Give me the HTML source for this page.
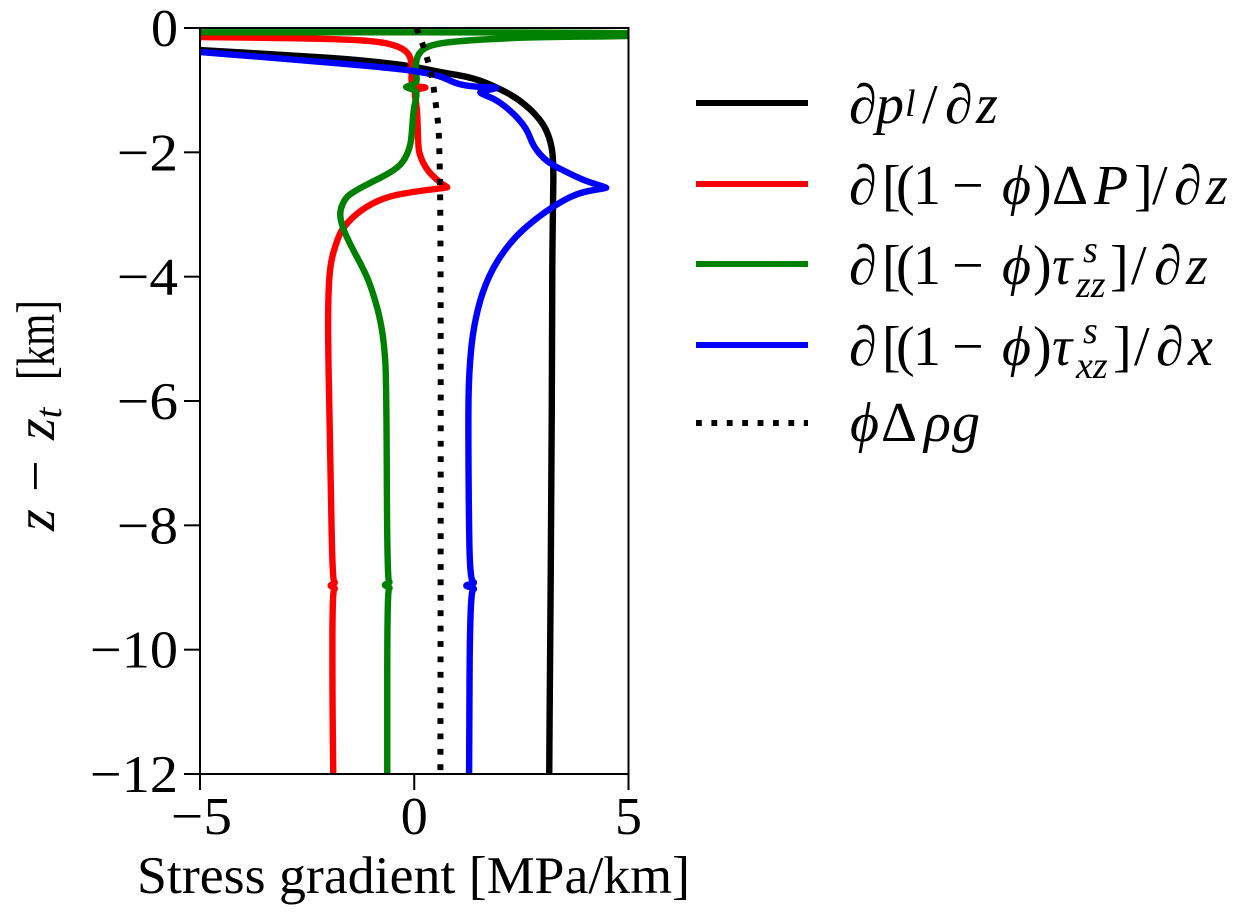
<!DOCTYPE html>
<html lang="en">
<head>
<meta charset="utf-8">
<title>Stress gradient profile</title>
<style>
  html, body { margin: 0; padding: 0; background: #fff; }
  svg { display: block; }
  text { font-family: "Liberation Serif", "DejaVu Serif", serif; fill: #000; }
  .m { font-style: italic; }
  .s { font-size: 38px; }
</style>
</head>
<body>
<svg id="chart" xmlns="http://www.w3.org/2000/svg" width="1242" height="918" viewBox="0 0 1242 918">
  <defs>
    <clipPath id="plot-clip"><rect x="200" y="28" width="428.5" height="746"/></clipPath>
  </defs>
  <rect x="200" y="28" width="428.5" height="746" fill="#fff"/>
  <g id="series-layer" clip-path="url(#plot-clip)"></g>
  <g id="axes-layer"></g>

  <text x="137" y="893" font-size="53" textLength="553" lengthAdjust="spacingAndGlyphs">Stress gradient [MPa/km]</text>
  <g transform="translate(54,531) rotate(-90)">
    <text x="0" y="0" font-size="56"><tspan class="m">z</tspan><tspan x="39">−</tspan><tspan class="m" x="91">z</tspan><tspan class="m s" dy="7">t</tspan></text>
    <text x="151" y="0" font-size="54" textLength="80" lengthAdjust="spacingAndGlyphs">[km]</text>
  </g>

  <g>
    <line x1="696" x2="808" y1="103" y2="103" stroke="#000" stroke-width="6"/>
    <text y="123" font-size="56"><tspan class="m" x="849">∂</tspan><tspan class="m" x="876">p</tspan><tspan class="m s" x="905" y="116">l</tspan><tspan x="922" y="123">/</tspan><tspan class="m" x="945">∂</tspan><tspan class="m" x="976">z</tspan></text>

    <line x1="696" x2="808" y1="184" y2="184" stroke="#f00" stroke-width="6"/>
    <text y="204" font-size="56"><tspan class="m" x="849">∂</tspan><tspan x="882">[</tspan><tspan x="896">(</tspan><tspan x="913">1</tspan><tspan x="952">−</tspan><tspan class="m" x="1002">ϕ</tspan><tspan x="1033">)</tspan><tspan x="1052">Δ</tspan><tspan class="m" x="1094">P</tspan><tspan x="1134">]</tspan><tspan x="1152">/</tspan><tspan class="m" x="1174">∂</tspan><tspan class="m" x="1206">z</tspan></text>

    <line x1="696" x2="808" y1="264" y2="264" stroke="#008000" stroke-width="6"/>
    <text y="284" font-size="56"><tspan class="m" x="849">∂</tspan><tspan x="882">[</tspan><tspan x="896">(</tspan><tspan x="913">1</tspan><tspan x="952">−</tspan><tspan class="m" x="1002">ϕ</tspan><tspan x="1033">)</tspan><tspan class="m" x="1052">τ</tspan><tspan class="m s" x="1083" y="262">s</tspan><tspan class="m s" x="1076" y="297">zz</tspan><tspan x="1110" y="284">]</tspan><tspan x="1131">/</tspan><tspan class="m" x="1154">∂</tspan><tspan class="m" x="1186">z</tspan></text>

    <line x1="696" x2="808" y1="345" y2="345" stroke="#00f" stroke-width="6"/>
    <text y="365" font-size="56"><tspan class="m" x="849">∂</tspan><tspan x="882">[</tspan><tspan x="896">(</tspan><tspan x="913">1</tspan><tspan x="952">−</tspan><tspan class="m" x="1002">ϕ</tspan><tspan x="1033">)</tspan><tspan class="m" x="1052">τ</tspan><tspan class="m s" x="1083" y="343">s</tspan><tspan class="m s" x="1076" y="378">xz</tspan><tspan x="1113" y="365">]</tspan><tspan x="1134">/</tspan><tspan class="m" x="1156">∂</tspan><tspan class="m" x="1188">x</tspan></text>

    <line x1="696" x2="808" y1="423" y2="423" stroke="#000" stroke-width="6" stroke-dasharray="5.8 9.6"/>
    <text y="441" font-size="56"><tspan class="m" x="850">ϕ</tspan><tspan x="881">Δ</tspan><tspan class="m" x="924">ρ</tspan><tspan class="m" x="952">g</tspan></text>
  </g>
</svg>

<script>
// Tick values and labels
const xTicks = [-5, 0, 5];
const xTickLabels = ['−5', '0', '5'];
const yTicks = [0, -2, -4, -6, -8, -10, -12];
const yTickLabels = ['0', '−2', '−4', '−6', '−8', '−10', '−12'];

// Series: gradient values (MPa/km) and depth (km)
const liquidX = [-5, -2.66, -1.5, -0.56, 0, 0.61, 1.38, 1.96, 2.4, 2.78, 3.06, 3.22, 3.25, 3.24, 3.22, 3.22, 3.2, 3.17, 3.15];
const liquidZ = [-0.354, -0.45, -0.5, -0.57, -0.62, -0.71, -0.8, -0.965, -1.13, -1.35, -1.59, -1.91, -2.28, -2.72, -3.78, -4.54, -7.6, -10, -12];

const pressureX = [-5, -2.12, -0.86, -0.33, -0.1, -0.05, -0.07, -0.04, 0.26, 0.26, -0.02, 0.07, 0.09, 0.14, 0.26, 0.4, 0.61, 0.77, 0.77, 0.61, -0.09, -0.72, -1.26, -1.66, -1.8, -1.96, -2.01, -2.01, -1.96, -1.91, -1.83, -1.99, -1.83, -1.91, -1.91, -1.89];
const pressureZ = [-0.145, -0.17, -0.21, -0.3, -0.43, -0.63, -0.84, -0.93, -0.955, -0.96, -1.0, -1.27, -1.91, -2.07, -2.24, -2.36, -2.49, -2.56, -2.565, -2.58, -2.64, -2.73, -2.93, -3.2, -3.41, -3.78, -4.33, -5.18, -6.79, -8.88, -8.93, -8.97, -9.01, -9.06, -10.8, -12];

const tauZzX = [-5, 5.4, 5.4, 3.5, 2.24, 1.0, 0.37, 0.09, 0.02, 0.07, 0.02, -0.19, -0.19, 0.02, 0.07, -0.02, -0.05, -0.09, -0.26, -0.56, -1.03, -1.38, -1.61, -1.75, -1.68, -1.49, -1.26, -1.07, -0.91, -0.79, -0.7, -0.65, -0.63, -0.55, -0.73, -0.55, -0.63, -0.63];
const tauZzZ = [-0.07, -0.07, -0.13, -0.14, -0.16, -0.21, -0.27, -0.4, -0.63, -0.84, -0.9, -0.945, -0.955, -1.0, -1.05, -1.32, -1.64, -1.91, -2.17, -2.33, -2.49, -2.62, -2.73, -2.96, -3.2, -3.49, -3.78, -4.05, -4.38, -4.7, -5.1, -5.66, -8.88, -8.92, -8.96, -9.0, -9.05, -12];

const tauXzX = [-5, -2.66, -0.56, 0, 0.61, 0.96, 1.31, 1.9, 1.92, 1.9, 1.54, 1.54, 1.94, 2.36, 2.64, 2.78, 3.1, 3.59, 3.99, 4.48, 4.48, 3.8, 3.17, 2.71, 2.36, 2.08, 1.84, 1.66, 1.52, 1.4, 1.33, 1.28, 1.26, 1.27, 1.3, 1.44, 1.14, 1.44, 1.3, 1.28];
const tauXzZ = [-0.386, -0.515, -0.643, -0.69, -0.77, -0.89, -0.94, -0.96, -0.965, -0.975, -1.02, -1.05, -1.16, -1.4, -1.64, -1.91, -2.16, -2.33, -2.46, -2.565, -2.575, -2.65, -2.9, -3.14, -3.36, -3.6, -3.86, -4.13, -4.42, -4.78, -5.13, -5.58, -6.14, -7.6, -8.88, -8.93, -8.97, -9.01, -9.07, -12];

const buoyancyX = [0.05, 0.23, 0.33, 0.42, 0.47, 0.56, 0.58, 0.61, 0.62, 0.61];
const buoyancyZ = [0, -0.32, -0.56, -0.8, -1.05, -1.53, -1.79, -2.72, -5.98, -12];

// Axis functions
const xDomain = [-5, 5], xRange = [200, 628.5];
const yDomain = [0, -12], yRange = [28, 774];
function sx(v) { return xRange[0] + (v - xDomain[0]) / (xDomain[1] - xDomain[0]) * (xRange[1] - xRange[0]); }
function sy(v) { return yRange[0] + (v - yDomain[0]) / (yDomain[1] - yDomain[0]) * (yRange[1] - yRange[0]); }

const NS = 'http://www.w3.org/2000/svg';
const seriesLayer = document.getElementById('series-layer');
const axesLayer = document.getElementById('axes-layer');

// Quadratic B-spline through segment midpoints: smooth, no overshoot
function smoothPath(xs, zs) {
  const p = xs.map(function (v, i) { return [sx(v), sy(zs[i])]; });
  let d = 'M' + p[0][0].toFixed(2) + ' ' + p[0][1].toFixed(2);
  d += 'L' + ((p[0][0] + p[1][0]) / 2).toFixed(2) + ' ' + ((p[0][1] + p[1][1]) / 2).toFixed(2);
  for (let i = 1; i < p.length - 1; i++) {
    d += 'Q' + p[i][0].toFixed(2) + ' ' + p[i][1].toFixed(2) + ' ' +
         ((p[i][0] + p[i + 1][0]) / 2).toFixed(2) + ' ' + ((p[i][1] + p[i + 1][1]) / 2).toFixed(2);
  }
  d += 'L' + p[p.length - 1][0].toFixed(2) + ' ' + p[p.length - 1][1].toFixed(2);
  return d;
}

function drawSeries(name, xs, zs, color, width, dash) {
  const el = document.createElementNS(NS, 'path');
  
  
  el.setAttribute('d', smoothPath(xs, zs));
  el.setAttribute('fill', 'none');
  el.setAttribute('stroke', color);
  el.setAttribute('stroke-width', width);
  el.setAttribute('stroke-linejoin', 'round');
  if (dash) { el.setAttribute('stroke-dasharray', dash); }
  seriesLayer.appendChild(el);
}

drawSeries('series-liquid-pressure-gradient', liquidX, liquidZ, '#000', '6.4');
drawSeries('series-pressure-difference-gradient', pressureX, pressureZ, '#f00', '6.4');
drawSeries('series-tau-zz-gradient', tauZzX, tauZzZ, '#008000', '6.4');
drawSeries('series-tau-xz-gradient', tauXzX, tauXzZ, '#00f', '6.4');
drawSeries('series-buoyancy', buoyancyX, buoyancyZ, '#000', '6', '5.8 9.6');

function axisLine(name, x1, y1, x2, y2) {
  const el = document.createElementNS(NS, 'line');
  
  
  el.setAttribute('x1', x1);
  el.setAttribute('y1', y1);
  el.setAttribute('x2', x2);
  el.setAttribute('y2', y2);
  el.setAttribute('stroke', '#000');
  el.setAttribute('stroke-width', '2');
  axesLayer.appendChild(el);
}

axisLine('left-spine', xRange[0], yRange[0] - 1, xRange[0], yRange[1] + 1);
axisLine('right-spine', xRange[1], yRange[0] - 1, xRange[1], yRange[1] + 1);
axisLine('top-spine', xRange[0], yRange[0], xRange[1], yRange[0]);
axisLine('bottom-spine', xRange[0], yRange[1], xRange[1], yRange[1]);

function labelWidth(label) {
  return (label.length - 1) * 27 + (label.charAt(0) === '−' ? 34 : 27);
}

xTicks.forEach(function (v, i) {
  axisLine('x-tick', sx(v), yRange[1], sx(v), yRange[1] + 16);
  const t = document.createElementNS(NS, 'text');
  
  
  t.setAttribute('x', sx(v) + (v < 0 ? 1.5 : 0));
  t.setAttribute('y', 834);
  t.setAttribute('font-size', '53');
  t.setAttribute('text-anchor', 'middle');
  t.setAttribute('textLength', labelWidth(xTickLabels[i]));
  t.setAttribute('lengthAdjust', 'spacingAndGlyphs');
  t.textContent = xTickLabels[i];
  axesLayer.appendChild(t);
});

yTicks.forEach(function (v, i) {
  axisLine('y-tick', xRange[0] - 16, sy(v), xRange[0], sy(v));
  const t = document.createElementNS(NS, 'text');
  
  
  t.setAttribute('x', 178);
  t.setAttribute('y', sy(v) + 18);
  t.setAttribute('font-size', '53');
  t.setAttribute('text-anchor', 'end');
  t.setAttribute('textLength', labelWidth(yTickLabels[i]));
  t.setAttribute('lengthAdjust', 'spacingAndGlyphs');
  t.textContent = yTickLabels[i];
  axesLayer.appendChild(t);
});
</script>
</body>
</html>
